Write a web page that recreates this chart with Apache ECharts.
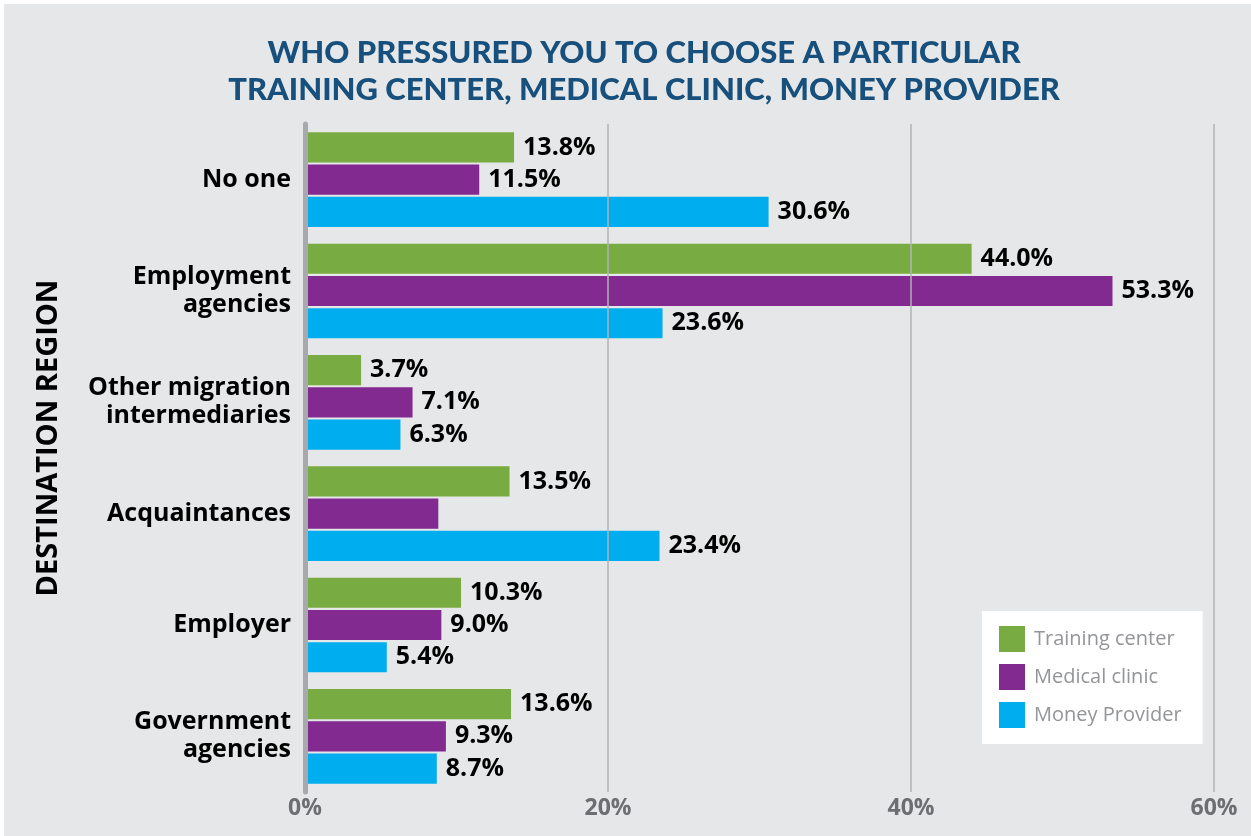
<!DOCTYPE html>
<html>
<head>
<meta charset="utf-8">
<script src="https://cdn.jsdelivr.net/npm/echarts@6/dist/echarts.min.js"></script>
<style>
html,body{margin:0;padding:0;background:#fff;}
#chart{position:absolute;left:4px;top:4px;width:1247px;height:832px;background:#e6e7e8;}
</style>
</head>
<body>
<div id="chart"></div>
<script>
const categories = ['No one', 'Employment\nagencies', 'Other migration\nintermediaries', 'Acquaintances', 'Employer', 'Government\nagencies'];
const seriesNames = ['Training center', 'Medical clinic', 'Money Provider'];
const trainingCenter = [13.8, 44.0, 3.7, 13.5, 10.3, 13.6];
const medicalClinic = [11.5, 53.3, 7.1, 8.8, 9.0, 9.3];
const moneyProvider = [30.6, 23.6, 6.3, 23.4, 5.4, 8.7];
const medicalClinicLabelHidden = [false, false, false, true, false, false];
const xTicks = [0, 20, 40, 60];
const colors = ['#78ab41', '#822a8f', '#00aeef'];

const FONT = '"Open Sans", "Noto Sans", sans-serif';
const TFONT = 'Lato, "Open Sans", sans-serif';
const chart = echarts.init(document.getElementById('chart'));

function mkData(vals, hidden) {
  return vals.map((v, i) => (hidden && hidden[i]) ? { value: v, label: { show: false } } : v);
}
const labelStyle = {
  show: true, position: 'right', distance: 9,
  formatter: p => p.value.toFixed(1) + '%',
  color: '#000', fontFamily: FONT, fontWeight: 'bold', fontSize: 25
};
const allData = [mkData(trainingCenter), mkData(medicalClinic, medicalClinicLabelHidden), mkData(moneyProvider)];

chart.setOption({
  backgroundColor: '#e6e7e8',
  animation: false,
  title: {
    text: 'WHO PRESSURED YOU TO CHOOSE A PARTICULAR\nTRAINING CENTER, MEDICAL CLINIC, MONEY PROVIDER',
    left: 635, top: 25, textAlign: 'center',
    textStyle: { color: '#17507d', fontFamily: TFONT, fontWeight: 900, fontSize: 31, lineHeight: 37 }
  },
  graphic: [{
    type: 'text', x: 45, y: 434, rotation: Math.PI / 2,
    style: {
      text: 'DESTINATION REGION', textAlign: 'center', textVerticalAlign: 'middle',
      fill: '#000', font: 'bold 29px "Open Sans", "Noto Sans", sans-serif'
    }
  }],
  legend: {
    orient: 'vertical', left: 978, top: 607,
    backgroundColor: '#ffffff',
    padding: [15, 21, 16, 17],
    itemWidth: 26, itemHeight: 26, itemGap: 12,
    icon: 'rect',
    data: seriesNames,
    textStyle: { color: '#939598', fontFamily: FONT, fontSize: 20, padding: [0, 0, 0, 4] }
  },
  grid: { left: 301, right: 37, top: 120, bottom: 44, containLabel: false },
  xAxis: {
    type: 'value', min: 0, max: 60, interval: 20, z: 5,
    axisLine: { show: false }, axisTick: { show: false },
    splitLine: { show: true, lineStyle: { color: '#b1b3b6', width: 1.5 } },
    axisLabel: {
      formatter: v => xTicks.includes(v) ? v + '%' : '',
      color: '#6d6e71', fontFamily: FONT, fontWeight: 'bold', fontSize: 23, margin: 5
    }
  },
  yAxis: {
    type: 'category', data: categories, inverse: true, offset: 2, z: 6,
    axisLine: { show: true, lineStyle: { color: '#a7a9ac', width: 5 } },
    axisTick: { show: false },
    axisLabel: { color: '#000', fontFamily: FONT, fontWeight: 'bold', fontSize: 25, lineHeight: 28, margin: 12, align: 'right' }
  },
  series: seriesNames.map((n, i) => ({
    name: n, type: 'bar', data: allData[i],
    itemStyle: { color: colors[i] },
    barGap: '7%', barCategoryGap: '15%',
    label: labelStyle
  }))
});
</script>
</body>
</html>
